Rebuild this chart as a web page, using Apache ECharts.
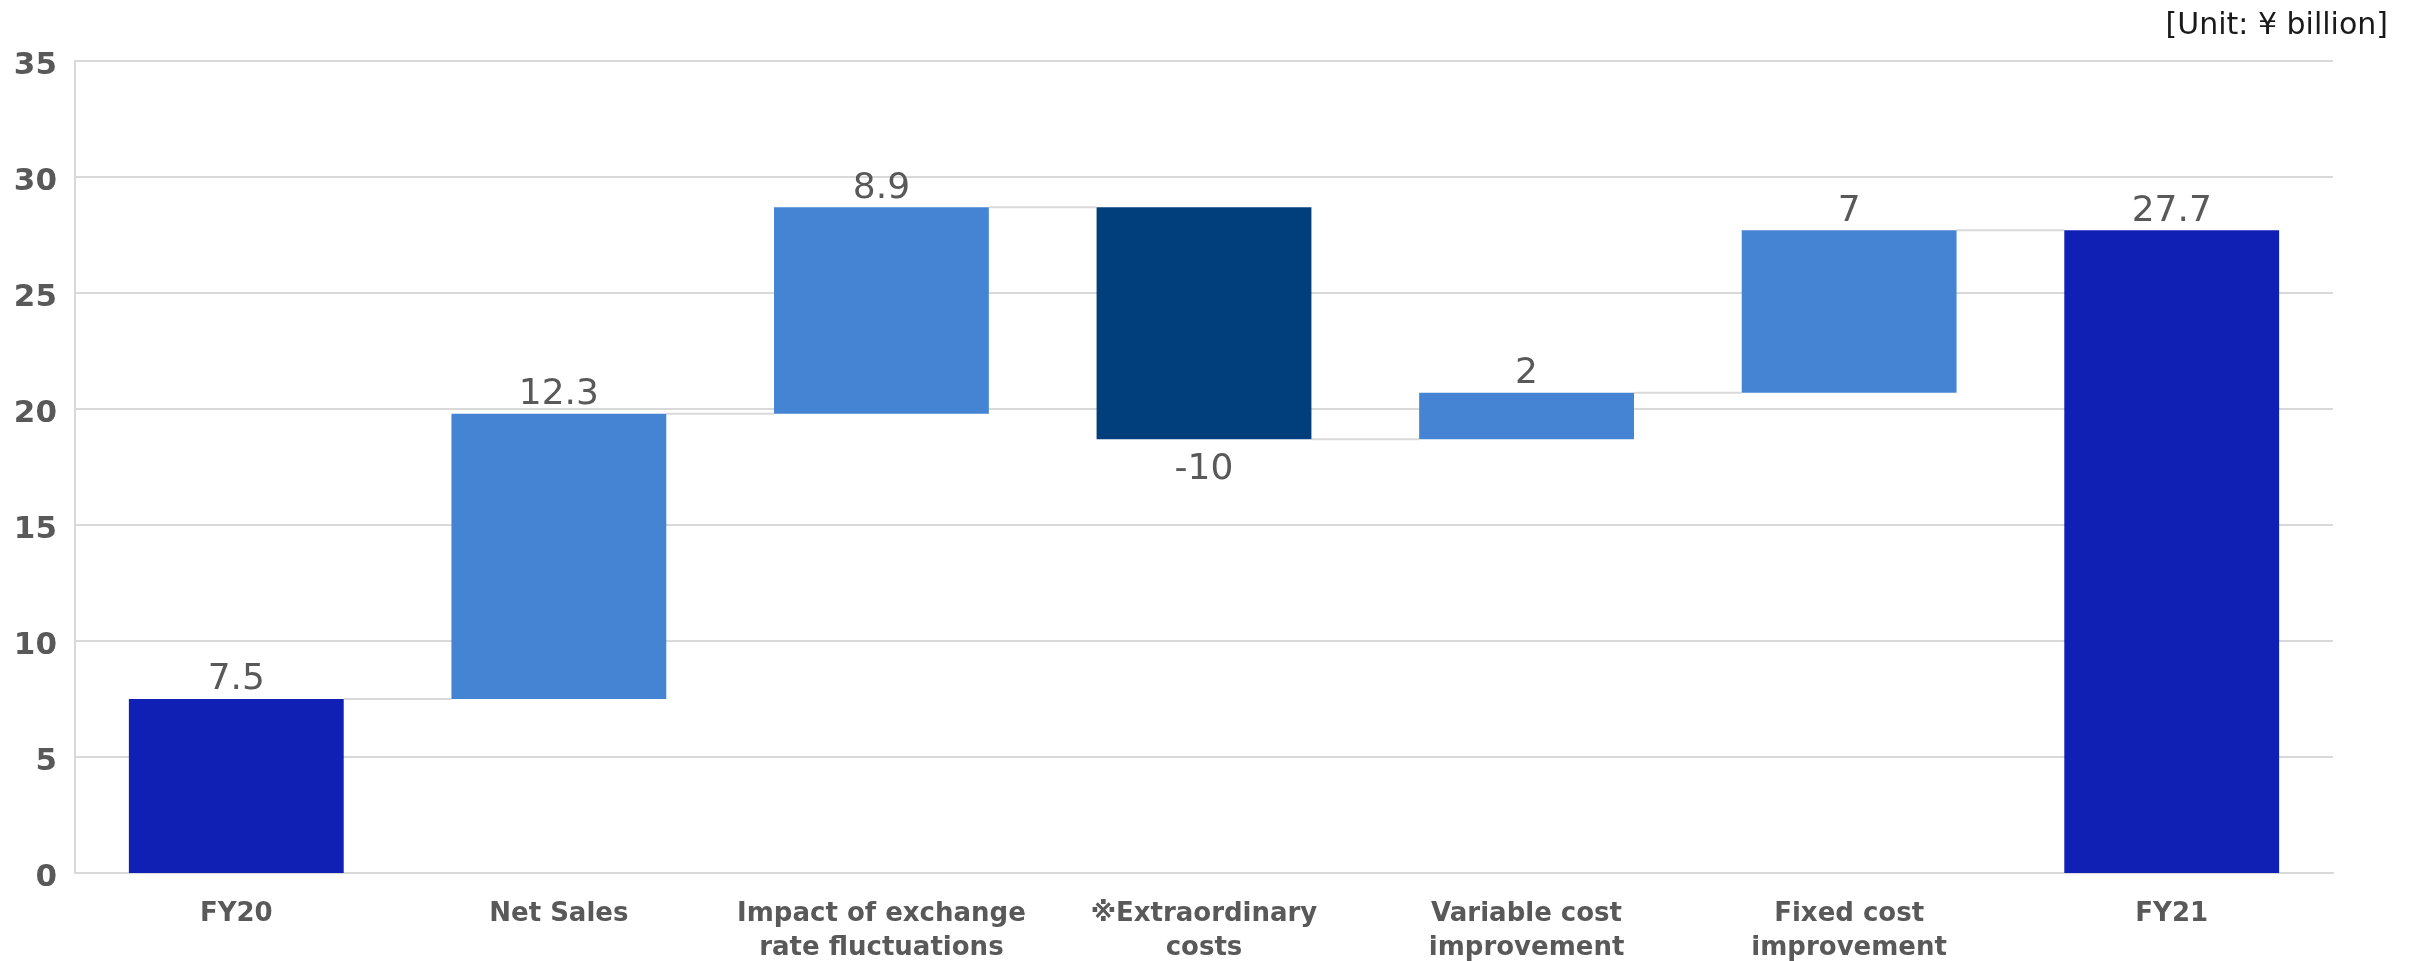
<!DOCTYPE html>
<html>
<head>
<meta charset="utf-8">
<script src="https://cdn.jsdelivr.net/npm/echarts@6/dist/echarts.min.js"></script>
<style>
html,body{margin:0;padding:0;background:#fff;}
#chart{width:2410px;height:961px;}
</style>
</head>
<body>
<div id="chart"></div>
<script>
const categories = ['FY20', 'Net Sales', 'Impact of exchange\nrate fluctuations', '※Extraordinary\ncosts', 'Variable cost\nimprovement', 'Fixed cost\nimprovement', 'FY21'];
const changes = [7.5, 12.3, 8.9, -10, 2, 7, 27.7];
const kinds = ['total', 'delta', 'delta', 'delta', 'delta', 'delta', 'total'];
const yTicks = { min: 0, max: 35, interval: 5 };
const unitLabel = '[Unit: ¥ billion]';

const colors = { total: '#1120B4', up: '#4584D3', down: '#003F7B' };

// build waterfall helper arrays
const baseVals = [], barVals = [], levels = [];
let running = 0;
changes.forEach((v, i) => {
  if (kinds[i] === 'total') {
    baseVals.push(0);
    barVals.push({ value: v, itemStyle: { color: colors.total }, raw: v });
    running = v;
  } else {
    const next = running + v;
    baseVals.push(Math.min(running, next));
    barVals.push({
      value: Math.abs(v),
      itemStyle: { color: v >= 0 ? colors.up : colors.down },
      label: { position: v >= 0 ? 'top' : 'bottom', distance: v >= 0 ? 1 : 12 },
      raw: v
    });
    running = next;
  }
  levels.push(Math.round(running * 10) / 10);
});
const connectorData = levels.slice(0, -1).map((lv, i) => [i, lv]);

const BAR_RATIO = 0.666;
const chart = echarts.init(document.getElementById('chart'));
chart.setOption({
  animation: false,
  backgroundColor: '#ffffff',
  textStyle: { fontFamily: 'DejaVu Sans' },
  graphic: [{
    type: 'text', right: 22, top: 11,
    style: { text: unitLabel, font: '30px "DejaVu Sans"', fill: '#1a1a1a' }
  }],
  grid: { left: 75, right: 77, top: 61, bottom: 88, containLabel: false, outerBoundsMode: 'none' },
  xAxis: {
    type: 'category',
    data: categories,
    axisLine: { show: true, lineStyle: { color: '#d9d9d9', width: 2 } },
    axisTick: { show: false },
    axisLabel: {
      interval: 0, margin: 24, color: '#595959', fontWeight: 'bold',
      fontSize: 26, lineHeight: 34, fontFamily: 'DejaVu Sans'
    }
  },
  yAxis: {
    type: 'value',
    min: yTicks.min, max: yTicks.max, interval: yTicks.interval,
    axisLine: { show: true, lineStyle: { color: '#d9d9d9', width: 2 } },
    axisTick: { show: false },
    splitLine: { lineStyle: { color: '#d9d9d9', width: 2 } },
    axisLabel: {
      margin: 18,
      formatter: v => '{a|' + v + '}',
      rich: { a: { color: '#595959', fontWeight: 'bold', fontSize: 31, fontFamily: 'DejaVu Sans', padding: [10, 0, 0, 0] } }
    }
  },
  series: [
    {
      type: 'custom',
      z: 1,
      data: connectorData,
      renderItem: function (params, api) {
        const p = api.coord([api.value(0), api.value(1)]);
        const w = api.size([1, 0])[0];
        const half = w * BAR_RATIO / 2;
        return {
          type: 'line',
          shape: { x1: p[0] + half, y1: p[1], x2: p[0] + w - half, y2: p[1] },
          style: { stroke: '#d9d9d9', lineWidth: 2 }
        };
      }
    },
    {
      type: 'bar', stack: 'w', z: 2,
      barWidth: (BAR_RATIO * 100) + '%',
      data: baseVals,
      itemStyle: { color: 'transparent' },
      silent: true
    },
    {
      type: 'bar', stack: 'w', z: 2,
      data: barVals,
      label: {
        show: true, position: 'top', distance: 1,
        color: '#595959', fontSize: 36, fontFamily: 'DejaVu Sans',
        formatter: p => String(p.data.raw)
      }
    }
  ]
});
</script>
</body>
</html>
